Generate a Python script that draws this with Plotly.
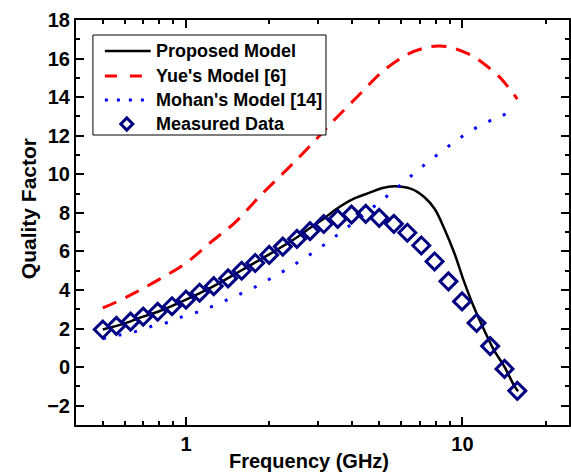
import numpy as np
import plotly.graph_objects as go

# Measured data
meas_f = [0.50, 0.56, 0.63, 0.70, 0.79, 0.89, 1.00, 1.12, 1.26, 1.42, 1.59, 1.78, 2.00, 2.24, 2.52, 2.81, 3.15,
          3.54, 3.97, 4.47, 5.00, 5.65, 6.32, 7.10, 7.93, 8.90, 9.97, 11.25, 12.6, 14.2, 15.8]
meas_q = [1.95, 2.14, 2.36, 2.62, 2.87, 3.16, 3.50, 3.86, 4.20, 4.60, 5.00, 5.40, 5.82, 6.25, 6.65, 7.05, 7.42,
          7.69, 7.91, 7.95, 7.74, 7.43, 6.97, 6.31, 5.48, 4.45, 3.41, 2.29, 1.09, -0.09, -1.23]

# Proposed model
prop_f = [0.5, 0.6, 0.7, 0.8, 1.0, 1.25, 1.6, 2.0, 2.5, 2.8, 3.15, 3.5, 4.0, 4.57, 5.1, 5.69, 6.53, 7.29,
          7.93, 8.6, 9.37, 10.1, 11.0, 12.0, 13.0, 14.2, 15.35, 15.9]
prop_q = [1.95, 2.27, 2.62, 2.9, 3.5, 4.18, 5.05, 5.85, 6.7, 7.2, 7.7, 8.2, 8.7, 9.02, 9.28, 9.38, 9.24, 8.81,
          8.21, 7.18, 5.88, 4.5, 3.12, 1.91, 0.88, 0.02, -0.93, -1.25]

# Yue's model [6]
yue_f = [0.5, 0.545, 0.652, 0.8, 1.0, 1.23, 1.51, 1.86, 2.3, 2.78, 3.42, 4.2, 5.17, 6.35, 7.3, 8.16, 9.0,
         9.9, 11.0, 12.0, 13.5, 15.0, 15.8]
yue_q = [3.07, 3.3, 3.85, 4.55, 5.4, 6.48, 7.52, 8.9, 10.2, 11.4, 12.78, 14.07, 15.36, 16.23, 16.55, 16.65, 16.6,
         16.4, 16.1, 15.71, 15.1, 14.33, 13.9]

# Mohan's model [14]
moh_f = [0.5, 0.573, 0.652, 0.738, 0.843, 0.95, 1.086, 1.23, 1.40, 1.58, 1.81, 2.05, 2.33, 2.64, 3.02, 3.42,
         3.87, 4.4, 5.0, 5.69, 6.44, 7.3, 8.3, 9.48, 10.74, 12.25, 13.8, 15.8]
moh_q = [1.48, 1.66, 1.83, 2.08, 2.29, 2.57, 2.83, 3.12, 3.47, 3.81, 4.21, 4.64, 5.1, 5.59, 6.14, 6.71,
         7.29, 7.9, 8.55, 9.19, 9.85, 10.5, 11.12, 11.74, 12.26, 12.69, 13.04, 13.26]

series_names = ["Proposed Model", "Yue's Model [6]", "Mohan's Model [14]", "Measured Data"]
x_title = "Frequency (GHz)"
y_title = "Quality Factor"

FONT = "Liberation Sans, Arial, sans-serif"
W, H = 571, 472
ML, MR, MT, MB = 76, 0, 20, 47
PW, PH = W - ML - MR, H - MT - MB


def px(x):
    return (x - ML) / PW


def py(y):
    return (H - MB - y) / PH


NAVY = "#000080"
fig = go.Figure()
fig.add_trace(go.Scatter(x=prop_f, y=prop_q, mode="lines", name=series_names[0],
                         line=dict(color="black", width=2.5, shape="spline")))
fig.add_trace(go.Scatter(x=yue_f, y=yue_q, mode="lines", name=series_names[1],
                         line=dict(color="#ff0000", width=3, dash="15px,10px", shape="spline")))
fig.add_trace(go.Scatter(x=moh_f, y=moh_q, mode="lines", name=series_names[2],
                         line=dict(color="#0000ff", width=3, dash="3px,13px", shape="spline")))
fig.add_trace(go.Scatter(x=meas_f, y=meas_q, mode="markers", name=series_names[3],
                         marker=dict(symbol="diamond-open", size=13, color=NAVY,
                                     line=dict(width=3, color=NAVY))))

# Hand-built legend (box, samples, labels)
shapes = [dict(type="rect", xref="paper", yref="paper", x0=px(93), x1=px(327), y0=py(135), y1=py(35),
               line=dict(color="black", width=1), fillcolor="white", layer="above")]
rows = [51, 76, 100, 124]
shapes.append(dict(type="line", xref="paper", yref="paper", x0=px(105), x1=px(151), y0=py(rows[0]), y1=py(rows[0]),
                   line=dict(color="black", width=2.5), layer="above"))
shapes.append(dict(type="line", xref="paper", yref="paper", x0=px(105), x1=px(151), y0=py(rows[1]), y1=py(rows[1]),
                   line=dict(color="#ff0000", width=3, dash="12px,13px"), layer="above"))
shapes.append(dict(type="line", xref="paper", yref="paper", x0=px(105), x1=px(151), y0=py(rows[2]), y1=py(rows[2]),
                   line=dict(color="#0000ff", width=3, dash="3px,9px"), layer="above"))
cx, cy, r = 127, rows[3], 6
shapes.append(dict(type="path", xref="paper", yref="paper",
                   path=f"M {px(cx - r)} {py(cy)} L {px(cx)} {py(cy - r)} L {px(cx + r)} {py(cy)} L {px(cx)} {py(cy + r)} Z",
                   line=dict(color=NAVY, width=3), fillcolor="rgba(0,0,0,0)", layer="above"))

annotations = []
for name, ry in zip(series_names, rows):
    annotations.append(dict(text=name, xref="paper", yref="paper", x=px(154), y=py(ry),
                            xanchor="left", yanchor="middle", showarrow=False,
                            font=dict(family=FONT, size=18, color="black", weight="bold")))
annotations.append(dict(text=x_title, xref="paper", yref="paper", x=px(310), y=py(461),
                        xanchor="center", yanchor="middle", showarrow=False,
                        font=dict(family=FONT, size=20, color="black", weight="bold")))
annotations.append(dict(text=y_title, xref="paper", yref="paper", x=px(28), y=py(209),
                        xanchor="center", yanchor="middle", showarrow=False, textangle=-90,
                        font=dict(family=FONT, size=21, color="black", weight="bold")))

fig.update_layout(
    width=W, height=H,
    margin=dict(l=ML, r=MR, t=MT, b=MB),
    plot_bgcolor="white", paper_bgcolor="white",
    font=dict(family=FONT, size=20, color="black", weight="bold"),
    showlegend=False,
    shapes=shapes, annotations=annotations,
)
fig.update_xaxes(
    type="log", range=[np.log10(0.4), np.log10(24.3)],
    tickvals=[1, 10], ticktext=["1", "10"],
    ticks="inside", ticklen=8, tickwidth=1.5, tickcolor="black",
    showline=True, linecolor="black", linewidth=2, mirror="allticks",
    showgrid=False, zeroline=False,
    minor=dict(ticks="inside", ticklen=4, tickwidth=1.5, tickcolor="black", dtick="D1", showgrid=False),
    tickfont=dict(family=FONT, size=20, weight="bold"),
)
fig.update_yaxes(
    range=[-3, 18], dtick=2, tick0=0,
    ticks="inside", ticklen=8, tickwidth=1.5, tickcolor="black",
    showline=True, linecolor="black", linewidth=2, mirror="allticks",
    showgrid=False, zeroline=False,
    minor=dict(ticks="inside", ticklen=4, tickwidth=1.5, tickcolor="black", dtick=1, showgrid=False),
    tickfont=dict(family=FONT, size=20, weight="bold"),
)

fig.write_html("out.html")
